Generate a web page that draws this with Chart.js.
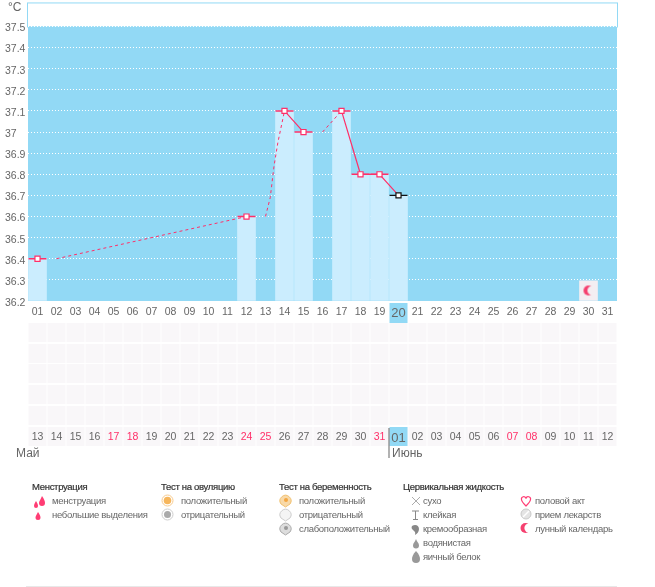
<!DOCTYPE html>
<html lang="ru">
<head>
<meta charset="utf-8">
<title>График температуры</title>
<script src="https://cdn.jsdelivr.net/npm/chart.js@4"></script>
<style>
  html, body { margin: 0; background: #fff; }
  #wrap { position: relative; width: 655px; height: 587px; overflow: hidden; font-family: "Liberation Sans", sans-serif; }
  canvas { position: absolute; left: 0; top: 0; }
  .t { position: absolute; white-space: nowrap; font-size: 9.5px; letter-spacing: -0.3px; line-height: 12px; color: #666; }
  .h { color: #333; -webkit-text-stroke: 0.2px #333; }
  .m { font-size: 12px; letter-spacing: 0; line-height: 14px; color: #666; }
  svg { position: absolute; }
</style>
</head>
<body>
<div id="wrap"><canvas id="cycle" width="655" height="587"></canvas></div>
<script>
const topDays = ['01','02','03','04','05','06','07','08','09','10','11','12','13','14','15','16','17','18','19','20','21','22','23','24','25','26','27','28','29','30','31'];
const bottomDays = ['13','14','15','16','17','18','19','20','21','22','23','24','25','26','27','28','29','30','31','01','02','03','04','05','06','07','08','09','10','11','12'];
const redDays = [4, 5, 11, 12, 18, 25, 26];
const tempTicks = [36.2,36.3,36.4,36.5,36.6,36.7,36.8,36.9,37,37.1,37.2,37.3,37.4,37.5];
const temps = [36.4,null,null,null,null,null,null,null,null,null,null,36.6,null,37.1,37.0,null,37.1,36.8,36.8,36.7,null,null,null,null,null,null,null,null,null,null,null];
const moonBar = [null,null,null,null,null,null,null,null,null,null,null,null,null,null,null,null,null,null,null,null,null,null,null,null,null,null,null,null,null,36.295,null];
const moonMark = [null,null,null,null,null,null,null,null,null,null,null,null,null,null,null,null,null,null,null,null,null,null,null,null,null,null,null,null,null,36.25,null];
const dashA = [{x:2,y:36.4},{x:12,y:36.6}];
const dashB = [{x:13,y:36.6},{x:13.25,y:36.69},{x:13.45,y:36.84},{x:13.65,y:36.95},{x:14,y:37.1}];
const dashC = [{x:16,y:37.0},{x:17,y:37.1}];
const todayIndex = 19;
const PINK = '#ff2f68';
const SKY = '#92d9f5';

const moonIcon = document.createElement('canvas');
moonIcon.width = 12; moonIcon.height = 12;
(function () {
  const c = moonIcon.getContext('2d');
  c.fillStyle = '#f5406f';
  c.beginPath(); c.arc(6, 6, 5, 0, Math.PI * 2); c.fill();
  c.fillStyle = '#f3eef2';
  c.beginPath(); c.arc(9.5, 6, 4.6, 0, Math.PI * 2); c.fill();
})();

// blue band, day highlights and the empty symptom grid
const backdrop = {
  id: 'backdrop',
  beforeDraw(chart) {
    const { ctx, chartArea: a, scales } = chart;
    const y = scales.y.getPixelForValue(37.5);
    ctx.save();
    ctx.fillStyle = SKY;
    ctx.fillRect(a.left, y, a.right - a.left, a.bottom - y);
    ctx.strokeStyle = SKY;
    ctx.lineWidth = 1;
    ctx.strokeRect(a.left - 0.5, y - 23.5, a.right - a.left + 1, 24);
    const cells = [323, 344, 364, 385, 406, 427];
    topDays.forEach((d, i) => {
      const cx = scales.x.getPixelForTick(i);
      ctx.fillStyle = '#f9f7f9';
      cells.forEach(top => ctx.fillRect(cx - 9, top, 18, 19));
      if (i === todayIndex) {
        ctx.fillStyle = SKY;
        ctx.fillRect(cx - 9, 303, 18, 20);
        ctx.fillRect(cx - 9, 427, 18, 19);
        ctx.fillStyle = '#666';
        ctx.fillRect(cx - 10, 428, 1, 30);
      }
    });
    ctx.restore();
  }
};

const noMargins = s => { s.paddingLeft = 0; s.paddingRight = 0; s.paddingTop = 0; s.paddingBottom = 0; };
const dashStyle = { type: 'line', xAxisID: 'xFine', borderColor: PINK, borderWidth: 1, borderDash: [3, 3], pointRadius: 0, order: 2, fill: false };

new Chart(document.getElementById('cycle'), {
  type: 'bar',
  plugins: [backdrop],
  data: {
    labels: topDays,
    datasets: [
      { type: 'line', data: temps, showLine: true, spanGaps: false, borderColor: PINK, borderWidth: 1.2,
        pointStyle: 'rect', pointRadius: 3.6, pointBorderWidth: 1.2, pointBackgroundColor: '#fff',
        pointBorderColor: ctx => ctx.dataIndex === todayIndex ? '#111' : PINK, order: 0 },
      { type: 'line', data: temps, showLine: false, pointStyle: 'line', pointRadius: 9, pointBorderWidth: 1.4,
        pointBorderColor: ctx => ctx.dataIndex === todayIndex ? '#111' : PINK, order: 1 },
      { ...dashStyle, data: dashA },
      { ...dashStyle, data: dashB },
      { ...dashStyle, data: dashC },
      { type: 'line', data: moonMark, showLine: false, pointStyle: moonIcon, order: 1 },
      { data: temps, backgroundColor: '#cbedfe', barThickness: 18, grouped: false, base: 36.2, order: 3 },
      { data: moonBar, backgroundColor: '#f3eef2', barThickness: 18, grouped: false, base: 36.2, order: 3 }
    ]
  },
  options: {
    responsive: false,
    animation: false,
    devicePixelRatio: 1,
    layout: { padding: { left: 5, right: 38, top: 3, bottom: 142 } },
    plugins: { legend: { display: false }, tooltip: { enabled: false } },
    scales: {
      x: {
        offset: true,
        grid: { display: false, drawTicks: false },
        border: { display: false },
        afterFit: s => { s.height = 22; noMargins(s); },
        ticks: { autoSkip: false, maxRotation: 0, padding: 5, color: '#666',
          font: c => ({ family: 'Liberation Sans', size: c.index === todayIndex ? 13 : 10.5 }) }
      },
      xBottom: {
        type: 'category',
        labels: bottomDays,
        position: 'bottom',
        offset: true,
        grid: { display: false, drawTicks: false },
        border: { display: false },
        afterFit: s => { s.height = 122; noMargins(s); },
        ticks: { autoSkip: false, maxRotation: 0, padding: 108,
          color: c => redDays.includes(c.index) ? PINK : '#666',
          font: c => ({ family: 'Liberation Sans', size: c.index === todayIndex ? 13 : 10.5 }) }
      },
      // the bar type would switch offset on here and stretch the range
      xFine: { type: 'linear', display: false, offset: false, min: 0.5, max: 31.5, ticks: { display: false }, afterFit: noMargins },
      y: {
        min: 36.2,
        max: 37.576,
        afterFit: s => { s.width = 23; noMargins(s); },
        afterBuildTicks: s => { s.ticks = tempTicks.map(v => ({ value: v })); },
        grid: { color: '#fff', lineWidth: 1, drawTicks: false },
        border: { display: false, dash: [1, 2] },
        ticks: { crossAlign: 'far', padding: 0, labelOffset: 2, color: '#666', autoSkip: false,
          font: { family: 'Liberation Sans', size: 10.5 },
          callback: v => String(+v.toFixed(1)) }
      }
    }
  }
});

// legend and captions below the chart
const captions = [
  ['°C', 8, 0, 'm'], ['Май', 16, 446, 'm'], ['Июнь', 392, 446, 'm'],
  ['Менструация', 32, 481, 'h'], ['менструация', 52, 495], ['небольшие выделения', 52, 509],
  ['Тест на овуляцию', 161, 481, 'h'], ['положительный', 181, 495], ['отрицательный', 181, 509],
  ['Тест на беременность', 279, 481, 'h'], ['положительный', 299, 495], ['отрицательный', 299, 509], ['слабоположительный', 299, 523],
  ['Цервикальная жидкость', 403, 481, 'h'], ['сухо', 423, 495], ['клейкая', 423, 509], ['кремообразная', 423, 523], ['водянистая', 423, 537], ['яичный белок', 423, 551],
  ['половой акт', 535, 495], ['прием лекарств', 535, 509], ['лунный календарь', 535, 523]
];
const wrap = document.getElementById('wrap');
captions.forEach(([text, x, y, cls]) => {
  const el = document.createElement('div');
  el.className = 't' + (cls ? ' ' + cls : '');
  el.textContent = text;
  el.style.left = x + 'px';
  el.style.top = y + 'px';
  wrap.appendChild(el);
});

const icons = [
  [33, 495, '<path d="M9 1c2 3 3 5 3 7a3 3 0 0 1-6 0c0-2 2-4 3-7zM3 6c1 2 2 3 2 5a2 2 0 0 1-4 0c0-2 1-3 2-5z" fill="#ff3d74"/>'],
  [34, 509, '<path d="M4 3c1.5 2 2.500 4 2.500 5.500a2.500 2.500 0 0 1-5 0C1.500 7 3 5 4 3z" fill="#ff3d74"/>'],
  [161, 494, '<circle cx="6.500" cy="6.500" r="5.500" fill="#fff" stroke="#f6c98c"/><circle cx="6.500" cy="6.500" r="3.800" fill="#f6b65c"/>'],
  [161, 508, '<circle cx="6.500" cy="6.500" r="5.500" fill="#fff" stroke="#ccc"/><circle cx="6.500" cy="6.500" r="3.500" fill="#aaa"/>'],
  [279, 494, '<path d="M6.500 13L2 10a5.500 5.500 0 1 1 9 0z" fill="#f8d9a8" stroke="#f0c070"/><circle cx="7" cy="6" r="2" fill="#f4a640"/>'],
  [279, 508, '<path d="M6.500 13L2 10a5.500 5.500 0 1 1 9 0z" fill="#f4f4f4" stroke="#ccc"/>'],
  [279, 522, '<path d="M6.500 13L2 10a5.500 5.500 0 1 1 9 0z" fill="#ddd" stroke="#aaa"/><circle cx="7" cy="6" r="2" fill="#999"/>'],
  [410, 495, '<path d="M2 2l8 8M10 2l-8 8" stroke="#888" stroke-width="0.7"/>'],
  [410, 509, '<path d="M2 2h7M5.500 2v8M3 10.500h5" stroke="#888" fill="none"/>'],
  [410, 523, '<path d="M2 3c3-2 7-1 7 3 0 3-2 5-4 6 1-3-1-4-2-5-1-1-2-2-1-4z" fill="#888"/>'],
  [410, 537, '<path d="M6 2c1 3 3 4 3 6.500a3 3 0 0 1-6 0C3 6 5 5 6 2z" fill="#999"/>'],
  [410, 550, '<path d="M6 1c3 3 4 6 4 8a4 4 0 0 1-8 0c0-2 1-5 4-8z" fill="#999"/>'],
  [520, 495, '<path d="M6 11C3 8 1.500 6.500 1.500 4.500a2.300 2.300 0 0 1 4.500-1 2.300 2.300 0 0 1 4.500 1C10.500 6.500 9 8 6 11z" fill="#fff" stroke="#ff3d74" stroke-width="1.200"/>'],
  [520, 508, '<circle cx="6" cy="6" r="5" fill="#e4e4e4" stroke="#c8c8c8"/><path d="M3 9l6-6" stroke="#fff" stroke-width="1.500"/>'],
  [520, 522, '<circle cx="5.500" cy="6" r="5" fill="#f5406f"/><circle cx="9" cy="6" r="4.600" fill="#fff"/>']
];
icons.forEach(([x, y, body]) => {
  const svg = document.createElementNS('http://www.w3.org/2000/svg', 'svg');
  svg.setAttribute('width', 14); svg.setAttribute('height', 14);
  svg.style.left = x + 'px'; svg.style.top = y + 'px';
  svg.innerHTML = body;
  wrap.appendChild(svg);
});

const rule = document.createElement('div');
rule.style.cssText = 'position:absolute;left:26px;top:586px;width:591px;height:1px;background:#e8e8e8';
wrap.appendChild(rule);
</script>
</body>
</html>
